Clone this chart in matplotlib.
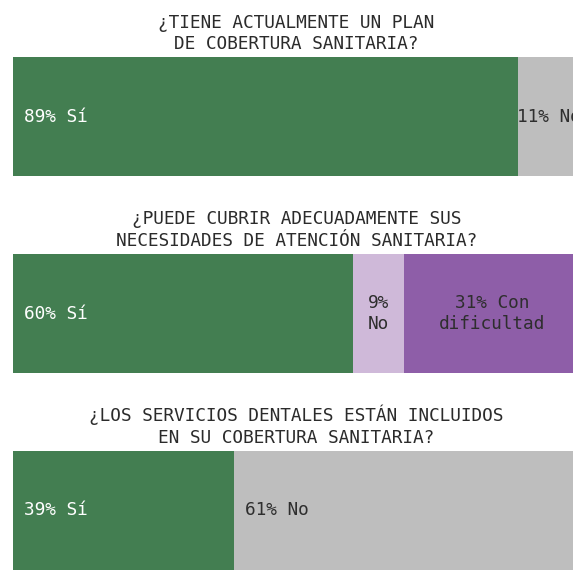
import matplotlib
matplotlib.use("Agg")
import matplotlib.pyplot as plt

plt.rcParams["font.family"] = ["DejaVu Sans Mono"]

# datos de la encuesta
preguntas = [
    "¿TIENE ACTUALMENTE UN PLAN\nDE COBERTURA SANITARIA?",
    "¿PUEDE CUBRIR ADECUADAMENTE SUS\nNECESIDADES DE ATENCIÓN SANITARIA?",
    "¿LOS SERVICIOS DENTALES ESTÁN INCLUIDOS\nEN SU COBERTURA SANITARIA?",
]
valores = [
    [89, 11],
    [60, 9, 31],
    [39, 61],
]
etiquetas = [
    ["89% Sí", "11% No"],
    ["60% Sí", "9%\nNo", "31% Con\ndificultad"],
    ["39% Sí", "61% No"],
]
colores = [
    ["#437e51", "#bebebe"],
    ["#437e51", "#cfb9d9", "#8e5ea8"],
    ["#437e51", "#bebebe"],
]

fig = plt.figure(figsize=(5.73, 5.70), dpi=100)
# el eje se sale un poco por la derecha, como en el original
ax = fig.add_axes([13 / 573, 0, 567 / 573, 1])

alto = 0.604
for i, (vals, labs, cols) in enumerate(zip(valores, etiquetas, colores)):
    izq = 0
    for v, lab, c in zip(vals, labs, cols):
        ax.barh(i, v, left=izq, height=alto, color=c, edgecolor="none")
        tcol = "white" if c == "#437e51" else "#2e2e2e"
        # centrado si el segmento es estrecho o el texto va en dos lineas
        if v < 20 or "\n" in lab and v < 40:
            ax.text(izq + v / 2, i, lab, ha="center", va="center",
                    fontsize=12.8, color=tcol, linespacing=1.15)
        else:
            ax.annotate(lab, (izq, i), xytext=(8, 0), textcoords="offset points",
                        ha="left", va="center", fontsize=12.8, color=tcol)
        izq += v
    ax.annotate(preguntas[i], (50, i - alto / 2), xytext=(0, 3),
                textcoords="offset points", ha="center", va="bottom",
                fontsize=12.8, color="#2b2b2b", linespacing=1.25)

ax.set_xlim(0, 100)
ax.set_ylim(2 + 59.6 / 197, -116.7 / 197)
ax.axis("off")

fig.savefig("out.png", dpi=100)
